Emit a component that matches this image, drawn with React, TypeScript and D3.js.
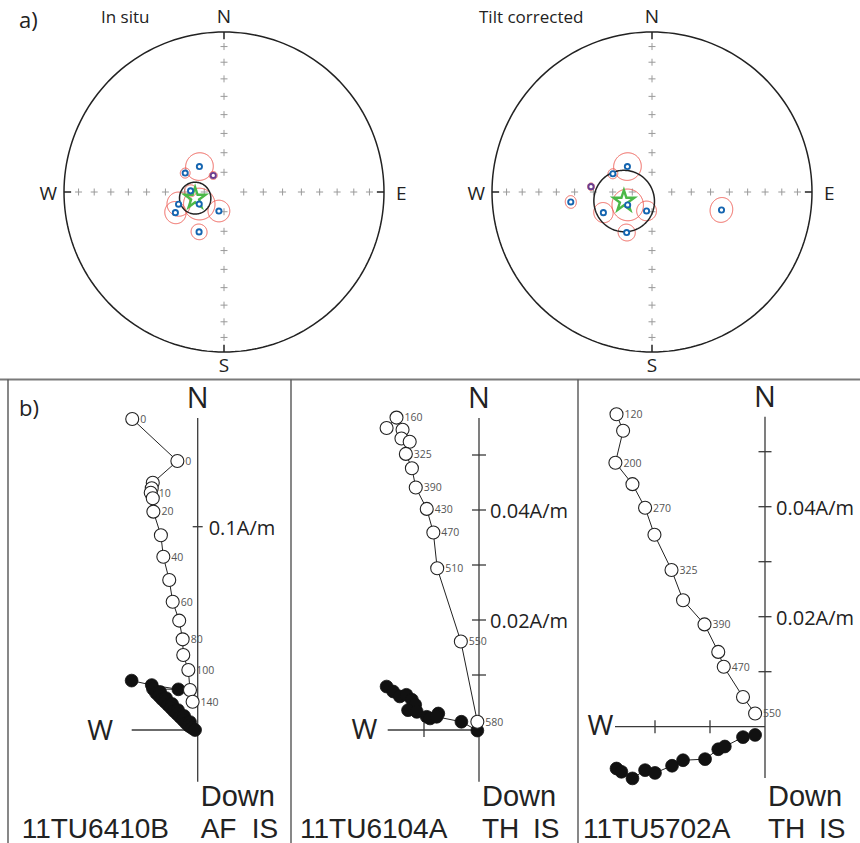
import React, { useEffect, useRef } from "react";
import * as d3 from "d3";

// site mean directions, [declination, inclination, alpha95]
const inSituSites: number[][] = [
  [316, 72, 7], [296, 68, 2.5], [327, 80, 2], [272, 73, 3], [244, 76, 8],
  [255, 66, 6], [247, 63, 5.5], [195, 80, 5.5], [212, 66, 4],
];
const inSituMean = [258, 75, 8];

const tiltSites: number[][] = [
  [316, 72, 7], [295, 68, 2.5], [275, 58.6, 1.8], [263, 47.6, 3], [242, 76, 8],
  [247, 63, 5], [196, 80, 5], [212, 65.6, 4.3], [104.5, 53, 6],
];
const tiltMean = [252, 75, 15.5];
const purpleSite = 2;

const gridColat = [10, 20, 30, 40, 50, 60, 70, 80];
const cardinals = [0, 90, 180, 270];

// Zijderveld demag data in mA/m: horizontal [E, N], vertical [E, Up]
const zij1Horiz = [
  [-32.2, 153.0], [-10.0, 132.3], [-22.1, 121.6], [-22.6, 118.9], [-23.1, 116.7],
  [-22.1, 114.0], [-21.8, 107.4], [-18.1, 95.8], [-16.9, 85.2], [-14.0, 73.8],
  [-12.3, 63.1], [-9.1, 53.8], [-7.4, 44.6], [-7.1, 36.9], [-4.6, 29.5],
  [-3.8, 19.7], [-2.5, 13.9],
];
const zij1Vert = [
  [-32.5, 24.3], [-22.6, 22.1], [-9.5, 20.0], [-22.0, 20.2], [-20.5, 18.2],
  [-18.5, 18.7], [-19.0, 16.7], [-17.6, 15.2], [-15.6, 15.7], [-16.1, 13.8],
  [-14.6, 12.3], [-12.6, 12.8], [-13.1, 10.8], [-11.7, 9.3], [-9.7, 9.8],
  [-10.2, 7.9], [-8.7, 6.4], [-6.7, 6.9], [-7.2, 4.9], [-5.8, 3.4],
  [-3.8, 3.9], [-4.3, 2.0], [-2.8, 1.0], [-1.3, 0.0],
];
const zij1Steps = ["0", "0", "", "", "10", "", "20", "", "40", "", "60", "", "80", "", "100", "", "140"];

const zij2Horiz = [
  [-16.8, 54.9], [-15.0, 56.8], [-13.9, 54.6], [-14.1, 53.0], [-12.6, 52.4],
  [-13.3, 50.2], [-12.2, 47.6], [-11.5, 44.1], [-9.5, 40.2], [-8.3, 35.9],
  [-7.6, 29.4], [-3.3, 16.1], [-0.3, 1.5],
];
const zij2Vert = [
  [-16.8, 7.9], [-15.6, 7.0], [-14.4, 6.1], [-13.2, 6.4], [-12.2, 5.5],
  [-11.6, 4.6], [-12.9, 3.6], [-11.3, 3.3], [-9.5, 2.4], [-8.9, 2.1],
  [-7.4, 3.0], [-7.7, 2.4], [-3.2, 1.5], [-0.3, -0.1],
];
const zij2Steps = ["", "160", "", "", "", "325", "", "390", "430", "470", "510", "550", "580"];

const zij3Horiz = [
  [-27.0, 56.8], [-25.8, 53.8], [-27.2, 48.0], [-24.1, 44.1], [-21.8, 39.8],
  [-20.1, 34.9], [-17.0, 28.5], [-14.9, 23.0], [-11.0, 18.6], [-8.5, 13.6],
  [-7.5, 10.9], [-4.0, 5.4], [-1.8, 2.4],
];
const zij3Vert = [
  [-27.0, -7.6], [-26.1, -8.2], [-24.1, -9.4], [-21.8, -7.9], [-20.0, -8.4],
  [-16.9, -7.1], [-14.9, -6.1], [-10.9, -5.9], [-8.5, -4.1], [-7.3, -3.6],
  [-4.0, -1.9], [-1.8, -1.5],
];
const zij3Steps = ["120", "", "200", "", "270", "", "325", "", "390", "", "470", "", "550"];

const zijNames = ["11TU6410B", "11TU6104A", "11TU5702A"];
const zijMethods = ["AF", "TH", "TH"];
const zijTickLabels = [
  [[100, "0.1A/m"]],
  [[20, "0.02A/m"], [40, "0.04A/m"]],
  [[20, "0.02A/m"], [40, "0.04A/m"]],
];

const FONT = "'Open Sans', sans-serif";
const FONT2 = "'Liberation Sans', Arial, sans-serif";

function drawStereo(svg: any, cx: number, cy: number, R: number, sites: number[][], mean: number[]) {
  const proj = d3.geoAzimuthalEqualArea().rotate([0, -90]).scale(R / Math.SQRT2).translate([cx, cy]);
  const path = d3.geoPath(proj);
  const ll = (dec: number, inc: number): [number, number] => [180 - dec, inc];
  const g = svg.append("g");

  // primitive
  g.append("path")
    .datum(d3.geoCircle().center([0, 90]).radius(90)())
    .attr("d", path).attr("fill", "none").attr("stroke", "#222").attr("stroke-width", 1.5);

  // grid crosses along the cardinal axes
  cardinals.forEach((dec) => {
    gridColat.forEach((c) => {
      const p = proj(ll(dec, 90 - c)) as [number, number];
      g.append("path")
        .attr("d", `M${p[0] - 3.5},${p[1]}h7M${p[0]},${p[1] - 3.5}v7`)
        .attr("stroke", "#9a9a9a").attr("stroke-width", 1);
    });
    const a = proj(ll(dec, 0)) as [number, number];
    const b = proj(ll(dec, 5)) as [number, number];
    g.append("line").attr("x1", a[0]).attr("y1", a[1]).attr("x2", b[0]).attr("y2", b[1])
      .attr("stroke", "#222").attr("stroke-width", 1.5);
  });

  // alpha95 circles
  sites.forEach((s) => {
    g.append("path")
      .datum(d3.geoCircle().center(ll(s[0], s[1])).radius(s[2])())
      .attr("d", path).attr("fill", "none").attr("stroke", "#ef5a52").attr("stroke-width", 1);
  });
  g.append("path")
    .datum(d3.geoCircle().center(ll(mean[0], mean[1])).radius(mean[2])())
    .attr("d", path).attr("fill", "none").attr("stroke", "#222").attr("stroke-width", 1.5);

  const pm = proj(ll(mean[0], mean[1])) as [number, number];
  g.append("path")
    .attr("d", d3.symbol().type(d3.symbolStar).size(135)())
    .attr("transform", `translate(${pm[0]},${pm[1]})`)
    .attr("fill", "none").attr("stroke", "#4cb848").attr("stroke-width", 2.4);

  sites.forEach((s, i) => {
    const p = proj(ll(s[0], s[1])) as [number, number];
    g.append("circle").attr("cx", p[0]).attr("cy", p[1]).attr("r", 2.6)
      .attr("fill", "white").attr("stroke", i === purpleSite ? "#6a3d8f" : "#1565b0")
      .attr("stroke-width", 1.9);
  });

  const lab = (t: string, x: number, y: number, anchor: string) =>
    g.append("text").attr("x", x).attr("y", y).attr("text-anchor", anchor)
      .attr("font-family", FONT).attr("font-size", 19).attr("fill", "#222").text(t);
  lab("N", cx, 23, "middle");
  lab("S", cx, 372, "middle");
  lab("W", cx - R - 7, cy + 8, "end");
  lab("E", cx + R + 12, cy + 8, "start");
}

interface ZijLayout {
  x0: number; y0: number; k: number; top: number; bottom: number; left: number;
  vTicks: number[]; hTicks: number[]; tick: number; left0: number; wGap: number; wDy: number;
}

const layouts: ZijLayout[] = [
  { x0: 197.7, y0: 730, k: 2.033, top: 418, bottom: 781.7, left: 131.7, vTicks: [100], hTicks: [], tick: 5, left0: 21.7, wGap: 18.5, wDy: 10 },
  { x0: 479, y0: 730, k: 5.5, top: 418, bottom: 781.7, left: 387.7, vTicks: [10, 20, 30, 40, 50], hTicks: [-10], tick: 7, left0: 300, wGap: 10.4, wDy: 9 },
  { x0: 765, y0: 726.7, k: 5.5, top: 416.7, bottom: 778, left: 615, vTicks: [10, 20, 30, 40, 50], hTicks: [-10, -20], tick: 6.5, left0: 583, wGap: 1.7, wDy: 8.3 },
];

function drawZij(svg: any, L: ZijLayout, i: number, horiz: number[][], vert: number[][], steps: string[]) {
  const x = d3.scaleLinear().domain([0, 1]).range([L.x0, L.x0 + L.k]);
  const y = d3.scaleLinear().domain([0, 1]).range([L.y0, L.y0 - L.k]);
  const g = svg.append("g");
  const ax = "#3a3a3a";

  g.append("line").attr("x1", L.x0).attr("x2", L.x0).attr("y1", L.top).attr("y2", L.bottom)
    .attr("stroke", ax).attr("stroke-width", 1.3);
  g.append("line").attr("x1", L.left).attr("x2", L.x0).attr("y1", L.y0).attr("y2", L.y0)
    .attr("stroke", ax).attr("stroke-width", 1.3);
  L.vTicks.forEach((t) => {
    g.append("line").attr("x1", L.x0 - L.tick).attr("x2", L.x0 + L.tick).attr("y1", y(t)).attr("y2", y(t))
      .attr("stroke", ax).attr("stroke-width", 1.3);
  });
  L.hTicks.forEach((t) => {
    g.append("line").attr("x1", x(t)).attr("x2", x(t)).attr("y1", L.y0 - L.tick).attr("y2", L.y0 + L.tick)
      .attr("stroke", ax).attr("stroke-width", 1.3);
  });
  zijTickLabels[i].forEach(([v, t]: any) => {
    g.append("text").attr("x", L.x0 + 11).attr("y", y(v) + 8).attr("font-family", FONT)
      .attr("font-size", 20).attr("fill", "#222").text(t);
  });

  const line = d3.line<number[]>().x((d) => x(d[0])).y((d) => y(d[1]));
  g.append("path").attr("d", line(vert)).attr("fill", "none").attr("stroke", "#222").attr("stroke-width", 1);
  g.selectAll(".fill").data(vert).enter().append("circle")
    .attr("cx", (d: number[]) => x(d[0])).attr("cy", (d: number[]) => y(d[1])).attr("r", 6.4)
    .attr("fill", "#111").attr("stroke", "#111").attr("stroke-width", 0.8);

  g.append("path").attr("d", line(horiz)).attr("fill", "none").attr("stroke", "#222").attr("stroke-width", 1);
  g.selectAll(".steplab").data(horiz).enter().append("text")
    .attr("x", (d: number[]) => x(d[0]) + 8).attr("y", (d: number[]) => y(d[1]) + 3.8)
    .attr("font-family", FONT).attr("font-size", 10.5).attr("fill", "#555")
    .text((_d: number[], j: number) => steps[j]);
  g.selectAll(".open").data(horiz).enter().append("circle")
    .attr("cx", (d: number[]) => x(d[0])).attr("cy", (d: number[]) => y(d[1])).attr("r", 6.5)
    .attr("fill", "white").attr("stroke", "#222").attr("stroke-width", 1.1);

  const big = (t: string, tx: number, ty: number, size: number, anchor = "start", fam = FONT) =>
    g.append("text").attr("x", tx).attr("y", ty).attr("text-anchor", anchor)
      .attr("font-family", fam).attr("font-size", size).attr("fill", "#222").text(t);
  big("N", L.x0, L.top - 10, 29, "middle");
  big("W", L.left - L.wGap, L.y0 + L.wDy, 28, "end");
  big("Down", L.x0 + 3, 806, 29, "start", FONT2);
  big(zijNames[i], L.left0, 838, 28, "start", FONT2);
  big(zijMethods[i], L.x0 + 3, 838, 28, "start", FONT2);
  big("IS", L.x0 + 54, 838, 28, "start", FONT2);
}

export default function App() {
  const ref = useRef<SVGSVGElement>(null);
  useEffect(() => {
    const svg = d3.select(ref.current);
    svg.selectAll("*").remove();
    svg.append("rect").attr("width", 860).attr("height", 843).attr("fill", "white");

    drawStereo(svg, 224, 192, 160, inSituSites, inSituMean);
    drawStereo(svg, 652, 192, 160, tiltSites, tiltMean);
    svg.append("text").attr("x", 19).attr("y", 28).attr("font-family", FONT).attr("font-size", 22)
      .attr("fill", "#222").text("a)");
    svg.append("text").attr("x", 101).attr("y", 23).attr("font-family", FONT).attr("font-size", 17)
      .attr("fill", "#222").text("In situ");
    svg.append("text").attr("x", 479).attr("y", 23).attr("font-family", FONT).attr("font-size", 17)
      .attr("fill", "#222").text("Tilt corrected");

    // panel frame for b)
    svg.append("line").attr("x1", 0).attr("x2", 860).attr("y1", 379.5).attr("y2", 379.5)
      .attr("stroke", "#7a7a7a").attr("stroke-width", 2);
    [8, 291, 578].forEach((px) => {
      svg.append("line").attr("x1", px).attr("x2", px).attr("y1", 379.5).attr("y2", 843)
        .attr("stroke", "#555").attr("stroke-width", 1.4);
    });
    svg.append("text").attr("x", 19).attr("y", 416).attr("font-family", FONT).attr("font-size", 22)
      .attr("fill", "#222").text("b)");

    drawZij(svg, layouts[0], 0, zij1Horiz, zij1Vert, zij1Steps);
    drawZij(svg, layouts[1], 1, zij2Horiz, zij2Vert, zij2Steps);
    drawZij(svg, layouts[2], 2, zij3Horiz, zij3Vert, zij3Steps);
  }, []);
  return (
    <svg ref={ref} width={860} height={843} style={{ position: "absolute", left: 0, top: 0 }} />
  );
}
